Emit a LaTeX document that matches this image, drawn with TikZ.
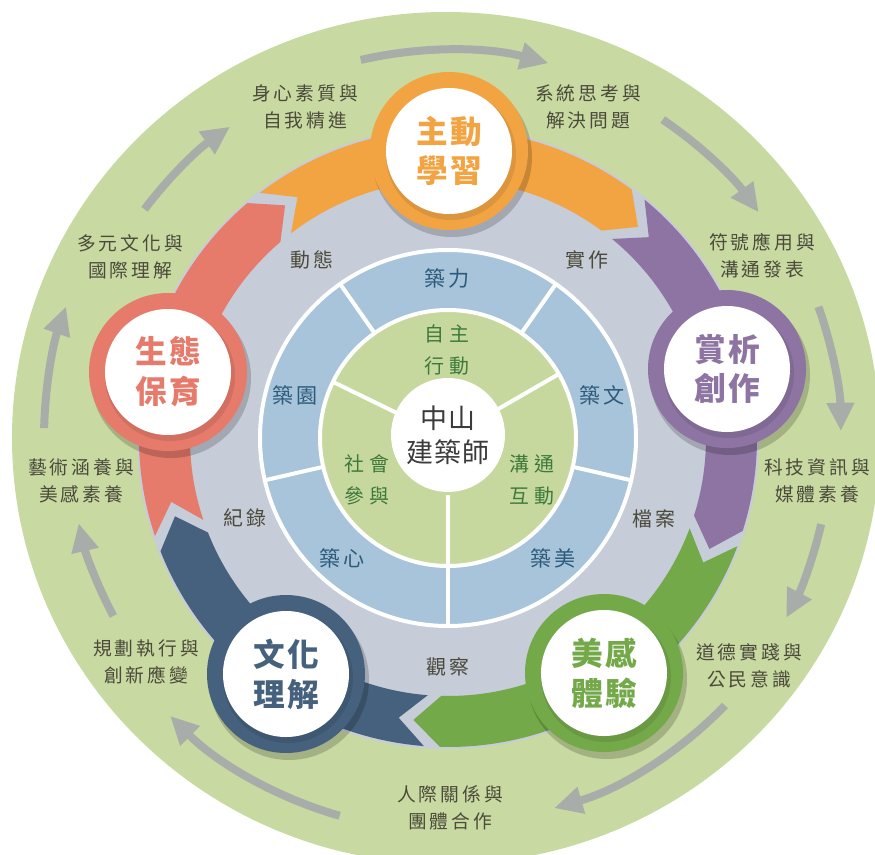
\documentclass[tikz,border=0pt]{standalone}
\usepackage{fontspec}
\newfontfamily\cjkouter{Noto Sans CJK TC}[LetterSpace=16]
\newfontfamily\cjkhub{Noto Sans CJK TC}[LetterSpace=8]
\newfontfamily\cjkring{Noto Sans CJK TC}[LetterSpace=15]
\newfontfamily\cjkinner{Noto Sans CJK TC}[LetterSpace=26]
\newfontfamily\cjkcore{Noto Sans CJK TC}[LetterSpace=5]
\usetikzlibrary{arrows.meta}

\definecolor{outergreen}{HTML}{C8D9A1}
\definecolor{ringgray}{HTML}{C6CCD8}
\definecolor{ringblue}{HTML}{A7C4DA}
\definecolor{innergreen}{HTML}{C7D89F}
\definecolor{bandorange}{HTML}{F2A443}
\definecolor{bandpurple}{HTML}{8D74A2}
\definecolor{bandgreen}{HTML}{74A94A}
\definecolor{bandblue}{HTML}{45617D}
\definecolor{bandred}{HTML}{E67B6B}
\definecolor{cyclegray}{HTML}{A8ADA9}
\definecolor{labeltext}{HTML}{4B4A3B}
\definecolor{bluetext}{HTML}{2D5A7B}
\definecolor{greentext}{HTML}{3D7A3B}
\definecolor{coretext}{HTML}{3B3B3B}

\begin{document}
\begin{tikzpicture}[x=0.03cm, y=0.03cm,
    hub/.style={circle, fill=white, minimum size=3.78cm, inner sep=0pt, align=center,
        font=\cjkhub\bfseries\fontsize{27}{34}\selectfont},
    outerlabel/.style={align=center, text=labeltext, font=\cjkouter\fontsize{16}{23}\selectfont},
    ringlabel/.style={text=labeltext, font=\cjkring\fontsize{17}{20}\selectfont},
    bluelabel/.style={text=bluetext, font=\cjkring\fontsize{18}{20}\selectfont},
    greenlabel/.style={align=center, text=greentext, font=\cjkinner\fontsize{17}{27}\selectfont},
    cyclearrow/.style={cyclegray, line width=0.24cm, -{Triangle[length=0.85cm, width=0.78cm]}},
    divider/.style={white, line width=0.12cm}]
    \useasboundingbox (-448,-416) rectangle (427,438);
    \clip (-448,-416) rectangle (427,438);

    % rings
    \fill[outergreen] (-2,0) ellipse[x radius=434, y radius=426];
    \fill[ringgray] (0,0) circle[radius=311];

    % coloured bands
    \fill[bandorange] (127.5:309) arc[start angle=127.5, end angle=53.5, radius=309] -- (48:284)
        -- (53.5:258) arc[start angle=53.5, end angle=127.5, radius=258] -- (122:284) -- cycle;
    \fill[bandpurple] (50.5:309) arc[start angle=50.5, end angle=-17.5, radius=309] -- (-23:284)
        -- (-17.5:258) arc[start angle=-17.5, end angle=50.5, radius=258] -- (45:284) -- cycle;
    \fill[bandgreen] (-20.5:309) arc[start angle=-20.5, end angle=-91.5, radius=309] -- (-97:284)
        -- (-91.5:258) arc[start angle=-91.5, end angle=-20.5, radius=258] -- (-26:284) -- cycle;
    \fill[bandblue] (-94.5:309) arc[start angle=-94.5, end angle=-158.5, radius=309] -- (-164:284)
        -- (-158.5:258) arc[start angle=-158.5, end angle=-94.5, radius=258] -- (-100:284) -- cycle;
    \fill[bandred] (198.5:309) arc[start angle=198.5, end angle=130.5, radius=309] -- (125:284)
        -- (130.5:258) arc[start angle=130.5, end angle=198.5, radius=258] -- (193:284) -- cycle;

    \fill[ringblue] (0,0) circle[radius=188];
    \fill[innergreen] (0,0) circle[radius=128];
    \draw[divider] (0,0) circle[radius=188];
    \draw[divider] (0,0) circle[radius=128];
    \draw[divider] (125:128) -- (125:188);
    \draw[divider] (55:128) -- (55:188);
    \draw[divider] (-13:128) -- (-13:188);
    \draw[divider] (-167:128) -- (-167:188);
    \draw[divider] (154:57) -- (154:128);
    \draw[divider] (30:57) -- (30:128);
    \draw[divider] (-90:57) -- (-90:188);

    \node[circle, fill=white, minimum size=3.42cm, inner sep=0pt, align=center, text=coretext,
        font=\cjkcore\fontsize{23}{29}\selectfont] (core) at (0,3) {中山\\建築師};

    % outer cycle
    \draw[cyclearrow] (103:388) arc[start angle=103, end angle=75, radius=388];
    \draw[cyclearrow] (56:384) arc[start angle=56, end angle=36, radius=384];
    \draw[cyclearrow] (19.5:393) arc[start angle=19.5, end angle=1, radius=393];
    \draw[cyclearrow] (-13:383) arc[start angle=-13, end angle=-28, radius=383];
    \draw[cyclearrow] (-44:385) arc[start angle=-44, end angle=-74, radius=385];
    \draw[cyclearrow] (-106:393) arc[start angle=-106, end angle=-135, radius=393];
    \draw[cyclearrow] (208:379) arc[start angle=208, end angle=193, radius=379];
    \draw[cyclearrow] (178.6:404) arc[start angle=178.6, end angle=161, radius=404];
    \draw[cyclearrow] (143:380) arc[start angle=143, end angle=125, radius=380];

    \node[outerlabel] (o1) at (-143,331) {身心素質與\\自我精進};
    \node[outerlabel] (o2) at (140,331) {系統思考與\\解決問題};
    \node[outerlabel] (o3) at (314,182) {符號應用與\\溝通發表};
    \node[outerlabel] (o4) at (369,-43) {科技資訊與\\媒體素養};
    \node[outerlabel] (o5) at (301,-228) {道德實踐與\\公民意識};
    \node[outerlabel] (o6) at (2,-370) {人際關係與\\團體合作};
    \node[outerlabel] (o7) at (-302,-224) {規劃執行與\\創新應變};
    \node[outerlabel] (o8) at (-367,-43) {藝術涵養與\\美感素養};
    \node[outerlabel] (o9) at (-318,181) {多元文化與\\國際理解};

    % gray ring
    \node[ringlabel] (r1) at (-136,178) {動態};
    \node[ringlabel] (r2) at (139,178) {實作};
    \node[ringlabel] (r3) at (206,-81) {檔案};
    \node[ringlabel] (r4) at (0,-229) {觀察};
    \node[ringlabel] (r5) at (-203,-80) {紀錄};

    % blue ring
    \node[bluelabel] (k1) at (-1,160) {築力};
    \node[bluelabel] (k2) at (154,43) {築文};
    \node[bluelabel] (k3) at (105,-120) {築美};
    \node[bluelabel] (k4) at (-106,-120) {築心};
    \node[bluelabel] (k5) at (-153,43) {築園};

    % inner ring
    \node[greenlabel] (g1) at (-1,88) {自主\\行動};
    \node[greenlabel] (g2) at (84,-42) {溝通\\互動};
    \node[greenlabel] (g3) at (-81,-42) {社會\\參與};

    % hubs
    \coordinate (c1) at (1,287);
    \coordinate (c2) at (279,69);
    \coordinate (c3) at (156,-235);
    \coordinate (c4) at (-162,-236);
    \coordinate (c5) at (-280,66);

    \fill[black, opacity=.18] ([shift={(3,-6)}]c1) circle[radius=80];
    \fill[black, opacity=.18] ([shift={(3,-6)}]c2) circle[radius=80];
    \fill[black, opacity=.18] ([shift={(3,-6)}]c3) circle[radius=80];
    \fill[black, opacity=.18] ([shift={(3,-6)}]c4) circle[radius=80];
    \fill[black, opacity=.18] ([shift={(3,-6)}]c5) circle[radius=80];
    \fill[bandorange] (c1) circle[radius=79];
    \fill[bandpurple] (c2) circle[radius=79];
    \fill[bandgreen] (c3) circle[radius=79];
    \fill[bandblue] (c4) circle[radius=79];
    \fill[bandred] (c5) circle[radius=79];
    \fill[bandorange!80!black, opacity=.45] ([shift={(2,-4)}]c1) circle[radius=65];
    \fill[bandpurple!80!black, opacity=.45] ([shift={(2,-4)}]c2) circle[radius=65];
    \fill[bandgreen!80!black, opacity=.45] ([shift={(2,-4)}]c3) circle[radius=65];
    \fill[bandblue!80!black, opacity=.45] ([shift={(2,-4)}]c4) circle[radius=65];
    \fill[bandred!80!black, opacity=.45] ([shift={(2,-4)}]c5) circle[radius=65];

    \node[hub, text=bandorange] (h1) at (c1) {主動\\學習};
    \node[hub, text=bandpurple] (h2) at (c2) {賞析\\創作};
    \node[hub, text=bandgreen] (h3) at (c3) {美感\\體驗};
    \node[hub, text=bandblue] (h4) at (c4) {文化\\理解};
    \node[hub, text=bandred] (h5) at (c5) {生態\\保育};
\end{tikzpicture}
\end{document}
